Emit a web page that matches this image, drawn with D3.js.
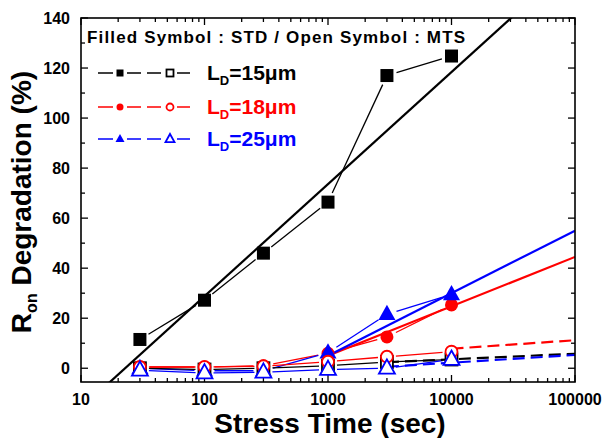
<!DOCTYPE html>
<html>
<head>
<meta charset="utf-8">
<script src="https://cdn.jsdelivr.net/npm/d3@7"></script>
<style>
  body { margin: 0; background: #fff; }
  svg text { font-family: "Liberation Sans", Arial, sans-serif; font-weight: bold; }
</style>
</head>
<body>
<div id="chart"></div>
<script>
// Stress times (sec)
var times = [30, 100, 300, 1000, 3000, 10000];

// Filled symbols : STD
var std15 = [11.5, 27.2, 46, 66.4, 117, 124.8];
var std18 = [0.5, 0.5, 1, 6, 12.5, 25.3];
var std25 = [0, -1, -1, 6.2, 21.6, 29.5];

// Open symbols : MTS
var mts15 = [0, -0.5, 0, 1, 2.5, 3.5];
var mts18 = [0.5, 0.5, 0.8, 2.6, 4.6, 6.6];
var mts25 = [-0.8, -1.9, -1.6, -0.5, 0, 3.5];

// Fit lines [time, value]
var fit15 = [[10, -16], [100000, 163.2]];
var fit18 = [[1000, 5], [100000, 44.5]];
var fit25 = [[1000, 5], [100000, 55]];
var dash15 = [[3000, 2.4], [100000, 5.8]];
var dash18 = [[10000, 7.8], [100000, 11.2]];
var dash25 = [[3000, 0.6], [100000, 5.3]];

var xTicks = [10, 100, 1000, 10000, 100000];
var yTicks = [0, 20, 40, 60, 80, 100, 120, 140];
var legendLabels = ["15\u03bcm", "18\u03bcm", "25\u03bcm"];
var colors = ["#000000", "#ff0000", "#0000ff"];

var width = 603, height = 438;
var margin = {left: 81, right: 28, top: 18, bottom: 56};

var svg = d3.select("#chart").append("svg")
    .attr("width", width)
    .attr("height", height);

var x = d3.scaleLog().domain([10, 100000]).range([margin.left, width - margin.right]);
var y = d3.scaleLinear().domain([-5.5, 140]).range([height - margin.bottom, margin.top]);

var x0 = margin.left, x1 = width - margin.right;
var y0 = height - margin.bottom, y1 = margin.top;

svg.append("clipPath").attr("id", "plotclip")
    .append("rect")
    .attr("x", x0).attr("y", y1)
    .attr("width", x1 - x0).attr("height", y0 - y1);

// Minor ticks
var xMinor = [];
for (var d = 10; d < 100000; d *= 10) {
    for (var k = 2; k <= 9; k++) xMinor.push(d * k);
}
var yMinor = [10, 30, 50, 70, 90, 110, 130];

var ticks = svg.append("g").attr("stroke", "#000").attr("stroke-width", 1.3);

xTicks.forEach(function(t) {
    ticks.append("line").attr("x1", x(t)).attr("x2", x(t)).attr("y1", y0).attr("y2", y0 - 7);
    ticks.append("line").attr("x1", x(t)).attr("x2", x(t)).attr("y1", y1).attr("y2", y1 + 7);
});
xMinor.forEach(function(t) {
    ticks.append("line").attr("x1", x(t)).attr("x2", x(t)).attr("y1", y0).attr("y2", y0 - 4);
    ticks.append("line").attr("x1", x(t)).attr("x2", x(t)).attr("y1", y1).attr("y2", y1 + 4);
});
yTicks.forEach(function(v) {
    ticks.append("line").attr("x1", x0).attr("x2", x0 + 7).attr("y1", y(v)).attr("y2", y(v));
    ticks.append("line").attr("x1", x1).attr("x2", x1 - 7).attr("y1", y(v)).attr("y2", y(v));
});
yMinor.forEach(function(v) {
    ticks.append("line").attr("x1", x0).attr("x2", x0 + 4).attr("y1", y(v)).attr("y2", y(v));
    ticks.append("line").attr("x1", x1).attr("x2", x1 - 4).attr("y1", y(v)).attr("y2", y(v));
});

// Tick labels
svg.append("g").selectAll("text").data(xTicks).enter().append("text")
    .attr("x", function(d) { return x(d); })
    .attr("y", y0 + 23)
    .attr("text-anchor", "middle")
    .attr("font-size", 16)
    .text(function(d) { return d; });

svg.append("g").selectAll("text").data(yTicks).enter().append("text")
    .attr("x", x0 - 11)
    .attr("y", function(d) { return y(d) + 6; })
    .attr("text-anchor", "end")
    .attr("font-size", 16)
    .text(function(d) { return d; });

// Axis titles
svg.append("text")
    .attr("x", 330)
    .attr("y", 433)
    .attr("text-anchor", "middle")
    .attr("font-size", 28)
    .text("Stress Time (sec)");

var ytitle = svg.append("text")
    .attr("transform", "translate(31,202) rotate(-90)")
    .attr("text-anchor", "middle")
    .attr("font-size", 28);
ytitle.append("tspan").text("R");
ytitle.append("tspan").attr("font-size", 16).attr("dy", 6).text("on");
ytitle.append("tspan").attr("dy", -6).text(" Degradation (%)");

var plot = svg.append("g").attr("clip-path", "url(#plotclip)");
var line = d3.line().x(function(d) { return x(d[0]); }).y(function(d) { return y(d[1]); });

// Connecting lines with a gap at each symbol
function gapLine(vals, color, gap) {
    for (var i = 0; i < times.length - 1; i++) {
        var ax = x(times[i]), ay = y(vals[i]);
        var bx = x(times[i + 1]), by = y(vals[i + 1]);
        var len = Math.sqrt((bx - ax) * (bx - ax) + (by - ay) * (by - ay));
        if (len <= 2 * gap) continue;
        var ux = (bx - ax) / len, uy = (by - ay) / len;
        plot.append("line")
            .attr("x1", ax + ux * gap).attr("y1", ay + uy * gap)
            .attr("x2", bx - ux * gap).attr("y2", by - uy * gap)
            .attr("stroke", color).attr("stroke-width", 1.3);
    }
}

function symbol(g, type, cx, cy, size, color, filled) {
    var fill = filled ? color : "#fff";
    var sw = filled ? 0 : 1.8;
    if (type === 0) {
        g.append("rect").attr("x", cx - size / 2).attr("y", cy - size / 2)
            .attr("width", size).attr("height", size)
            .attr("fill", fill).attr("stroke", color).attr("stroke-width", sw);
    } else if (type === 1) {
        g.append("circle").attr("cx", cx).attr("cy", cy).attr("r", size / 2)
            .attr("fill", fill).attr("stroke", color).attr("stroke-width", sw);
    } else {
        var h = size * 0.9;
        var pts = [[cx, cy - h * 0.62], [cx + size / 2, cy + h * 0.38], [cx - size / 2, cy + h * 0.38]];
        g.append("polygon").attr("points", pts.map(function(p) { return p.join(","); }).join(" "))
            .attr("fill", fill).attr("stroke", color).attr("stroke-width", sw);
    }
}

var stdSets = [std15, std18, std25];
var mtsSets = [mts15, mts18, mts25];
var fits = [fit15, fit18, fit25];
var dashes = [dash15, dash18, dash25];
var sizes = [13, 13, 17];

// Connecting lines
[0, 1, 2].forEach(function(i) { gapLine(stdSets[i], colors[i], 10); });
[0, 1, 2].forEach(function(i) { gapLine(mtsSets[i], colors[i], 9); });

// Fit lines
[0, 1, 2].forEach(function(i) {
    plot.append("path").datum(fits[i]).attr("d", line)
        .attr("fill", "none").attr("stroke", colors[i]).attr("stroke-width", 2.2);
    plot.append("path").datum(dashes[i]).attr("d", line)
        .attr("fill", "none").attr("stroke", colors[i]).attr("stroke-width", 2.2)
        .attr("stroke-dasharray", "12,6");
});

// Symbols
var sym = svg.append("g");
[0, 1, 2].forEach(function(i) {
    times.forEach(function(t, j) { symbol(sym, i, x(t), y(stdSets[i][j]), sizes[i], colors[i], true); });
});
[0, 1, 2].forEach(function(i) {
    times.forEach(function(t, j) { symbol(sym, i, x(t), y(mtsSets[i][j]), sizes[i] - 1, colors[i], false); });
});

// Frame
svg.append("rect")
    .attr("x", x0).attr("y", y1)
    .attr("width", x1 - x0).attr("height", y0 - y1)
    .attr("fill", "none").attr("stroke", "#000").attr("stroke-width", 1.6);

// Legend
svg.append("text")
    .attr("x", 87).attr("y", 43)
    .attr("font-size", 17)
    .attr("textLength", 378)
    .attr("lengthAdjust", "spacing")
    .text("Filled Symbol : STD / Open Symbol : MTS");

var leg = svg.append("g");
var rowY = [73, 107, 139];
[0, 1, 2].forEach(function(i) {
    var cy = rowY[i];
    leg.append("line").attr("x1", 98).attr("x2", 113).attr("y1", cy).attr("y2", cy)
        .attr("stroke", colors[i]).attr("stroke-width", 1.5);
    leg.append("line").attr("x1", 127).attr("x2", 163).attr("y1", cy).attr("y2", cy)
        .attr("stroke", colors[i]).attr("stroke-width", 1.5).attr("stroke-dasharray", "14,6");
    leg.append("line").attr("x1", 177).attr("x2", 190).attr("y1", cy).attr("y2", cy)
        .attr("stroke", colors[i]).attr("stroke-width", 1.5);
    var s = i === 2 ? 9 : 7;
    symbol(leg, i, 120, cy, s, colors[i], true);
    symbol(leg, i, 170, cy, s, colors[i], false);
    var t = leg.append("text").attr("x", 207).attr("y", cy + 7)
        .attr("font-size", 21).attr("fill", colors[i]);
    t.append("tspan").text("L");
    t.append("tspan").attr("font-size", 13).attr("dy", 5).text("D");
    t.append("tspan").attr("dy", -5).text("=" + legendLabels[i]);
});
</script>
</body>
</html>
